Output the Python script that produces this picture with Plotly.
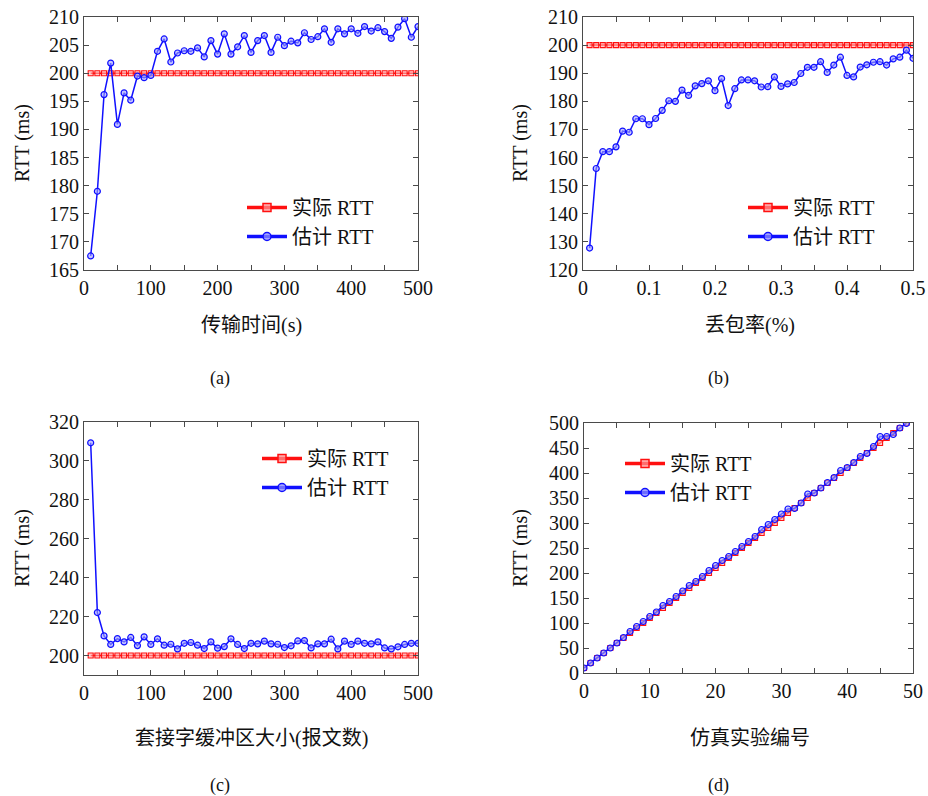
import plotly.graph_objects as go

# ---------------- data ----------------
# (a) transmission time (s)
a_x = [10, 20, 30, 40, 50, 60, 70, 80, 90, 100, 110, 120, 130, 140, 150, 160, 170, 180, 190, 200,
       210, 220, 230, 240, 250, 260, 270, 280, 290, 300, 310, 320, 330, 340, 350, 360, 370, 380, 390, 400,
       410, 420, 430, 440, 450, 460, 470, 480, 490, 500]
a_actual = [200] * 50
a_est = [167.5, 179.0, 196.2, 201.8, 190.9, 196.5, 195.2, 199.5, 199.2, 199.6,
         203.9, 206.1, 202.0, 203.6, 204.0, 203.9, 204.5, 202.9, 205.8, 203.4,
         207.0, 203.4, 204.7, 206.7, 203.7, 205.8, 206.7, 203.7, 206.4, 204.9,
         205.7, 205.4, 207.2, 206.0, 206.5, 207.9, 205.5, 207.9, 207.0, 207.9,
         207.1, 208.3, 207.5, 208.1, 207.4, 206.2, 208.2, 209.7, 206.4, 208.3]

# (b) packet loss rate
b_x = [0.01, 0.02, 0.03, 0.04, 0.05, 0.06, 0.07, 0.08, 0.09, 0.10,
       0.11, 0.12, 0.13, 0.14, 0.15, 0.16, 0.17, 0.18, 0.19, 0.20,
       0.21, 0.22, 0.23, 0.24, 0.25, 0.26, 0.27, 0.28, 0.29, 0.30,
       0.31, 0.32, 0.33, 0.34, 0.35, 0.36, 0.37, 0.38, 0.39, 0.40,
       0.41, 0.42, 0.43, 0.44, 0.45, 0.46, 0.47, 0.48, 0.49, 0.50]
b_actual = [200] * 50
b_est = [127.8, 156.1, 162.1, 162.1, 163.8, 169.4, 169.0, 173.8, 173.8, 171.7,
         173.9, 176.8, 180.2, 180.0, 184.0, 182.1, 185.5, 186.3, 187.3, 183.8,
         188.1, 178.5, 184.5, 187.6, 187.6, 187.3, 185.1, 185.2, 188.7, 185.3,
         186.2, 186.7, 189.9, 192.1, 192.1, 194.1, 190.3, 192.9, 195.7, 189.2,
         188.7, 192.2, 193.0, 193.9, 194.1, 192.9, 195.1, 195.7, 198.2, 195.3]

# (c) socket buffer size (packets)
c_x = a_x
c_actual = [200] * 50
c_est = [309.3, 222.1, 210.1, 205.7, 208.7, 207.0, 209.3, 205.1, 209.6, 205.7,
         208.6, 205.3, 205.8, 203.4, 206.3, 206.7, 205.3, 203.6, 207.0, 203.8,
         204.6, 208.6, 205.7, 203.6, 206.3, 206.0, 207.4, 206.0, 205.8, 204.1,
         205.0, 207.5, 207.7, 203.9, 206.0, 206.0, 208.4, 203.4, 207.4, 205.7,
         207.4, 206.3, 206.0, 207.0, 203.9, 203.4, 204.5, 205.7, 206.3, 206.3]

# (d) simulation experiment number
d_x = list(range(0, 50))
d_actual = [10, 20, 30, 40, 50, 60, 70, 80, 90, 100, 110, 120, 130, 140, 150, 160, 170, 180, 190, 200,
            210, 220, 230, 240, 250, 260, 270, 280, 290, 300, 310, 320, 330, 340, 350, 360, 370, 380, 390, 400,
            410, 420, 430, 440, 450, 460, 470, 480, 490, 500]
d_est = [10, 20, 30, 40, 50, 60, 71, 83, 93, 103, 113, 122, 135, 143, 153, 164, 175, 183, 193, 205,
         215, 225, 233, 243, 253, 263, 273, 287, 297, 307, 318, 328, 329, 340, 358, 360, 370, 381, 391, 405,
         411, 421, 433, 439, 453, 473, 473, 477, 490, 499]

# tick values / labels
a_xticks = [0, 50, 100, 150, 200, 250, 300, 350, 400, 450, 500]
a_xtext = ["0", "", "100", "", "200", "", "300", "", "400", "", "500"]
a_yticks = [165, 170, 175, 180, 185, 190, 195, 200, 205, 210]
b_xticks = [0, 0.05, 0.1, 0.15, 0.2, 0.25, 0.3, 0.35, 0.4, 0.45, 0.5]
b_xtext = ["0", "", "0.1", "", "0.2", "", "0.3", "", "0.4", "", "0.5"]
b_yticks = [120, 130, 140, 150, 160, 170, 180, 190, 200, 210]
c_yticks = [200, 220, 240, 260, 280, 300, 320]
d_xticks = [0, 5, 10, 15, 20, 25, 30, 35, 40, 45, 50]
d_xtext = ["0", "", "10", "", "20", "", "30", "", "40", "", "50"]
d_yticks = [0, 50, 100, 150, 200, 250, 300, 350, 400, 450, 500]

x_titles = ["传输时间(s)", "丢包率(%)", "套接字缓冲区大小(报文数)", "仿真实验编号"]
panel_labels = ["(a)", "(b)", "(c)", "(d)"]
y_title = "RTT (ms)"
name_actual = "实际 RTT"
name_est = "估计 RTT"

# ---------------- figure ----------------
W, H = 928, 796
FONT = "'Liberation Serif', 'Times New Roman', 'Noto Sans CJK SC', serif"
RED = "#FF1010"
BLUE = "#1010FF"

def px(x):
    return x / W

def py(y):
    return 1 - y / H

fig = go.Figure()

panels = [
    (a_x, a_actual, a_est, "x", "y", "legend"),
    (b_x, b_actual, b_est, "x2", "y2", "legend2"),
    (c_x, c_actual, c_est, "x3", "y3", "legend3"),
    (d_x, d_actual, d_est, "x4", "y4", "legend4"),
]

for xs, act, est, xa, ya, lg in panels:
    fig.add_trace(go.Scatter(
        x=xs, y=act, mode="lines+markers", xaxis=xa, yaxis=ya, showlegend=False,
        line=dict(color=RED, width=1.5),
        marker=dict(symbol="square", size=5, color="rgba(255,170,170,0.6)",
                    line=dict(color=RED, width=1.1)),
        hoverinfo="skip"))
    fig.add_trace(go.Scatter(
        x=xs, y=est, mode="lines+markers", xaxis=xa, yaxis=ya, showlegend=False,
        line=dict(color=BLUE, width=1.5),
        marker=dict(symbol="circle", size=6, color="rgba(160,160,255,0.6)",
                    line=dict(color=BLUE, width=1.2)),
        hoverinfo="skip"))
    # legend-only entries with thicker lines
    fig.add_trace(go.Scatter(
        x=[None], y=[None], mode="lines+markers", xaxis=xa, yaxis=ya, legend=lg,
        name=name_actual,
        line=dict(color=RED, width=3.5),
        marker=dict(symbol="square", size=8, color="rgba(255,150,150,0.7)",
                    line=dict(color=RED, width=1.5))))
    fig.add_trace(go.Scatter(
        x=[None], y=[None], mode="lines+markers", xaxis=xa, yaxis=ya, legend=lg,
        name=name_est,
        line=dict(color=BLUE, width=3.5),
        marker=dict(symbol="circle", size=8, color="rgba(150,150,255,0.7)",
                    line=dict(color=BLUE, width=1.5))))

axis_common = dict(
    showline=True, linecolor="#4a4a4a", linewidth=1, mirror="allticks",
    ticks="inside", ticklen=5, tickwidth=1, tickcolor="#4a4a4a",
    showgrid=False, zeroline=False, automargin=False,
    ticklabeloverflow="allow",
    tickfont=dict(family=FONT, size=20, color="#111111"),
)

# plot-area rectangles in pixels: (left, right, top, bottom)
rects = [
    (84, 418, 17, 270),
    (583, 913, 17, 270),
    (84, 418, 422, 675),
    (584, 913, 423, 673),
]

xcfg = [
    dict(range=[0, 500], tickmode="array", tickvals=a_xticks, ticktext=a_xtext),
    dict(range=[0, 0.5], tickmode="array", tickvals=b_xticks, ticktext=b_xtext),
    dict(range=[0, 500], tickmode="array", tickvals=a_xticks, ticktext=a_xtext),
    dict(range=[0, 50], tickmode="array", tickvals=d_xticks, ticktext=d_xtext),
]
ycfg = [
    dict(range=[165, 210], tickmode="array", tickvals=a_yticks),
    dict(range=[120, 210], tickmode="array", tickvals=b_yticks),
    dict(range=[190, 320], tickmode="array", tickvals=c_yticks),
    dict(range=[0, 500], tickmode="array", tickvals=d_yticks),
]

layout = dict(
    template="none",
    width=W, height=H, margin=dict(l=0, r=0, t=0, b=0, pad=0),
    paper_bgcolor="white", plot_bgcolor="white",
    font=dict(family=FONT, size=20, color="#111111"),
)

for i, (l, r, t, b) in enumerate(rects):
    sx = "" if i == 0 else str(i + 1)
    xd = dict(axis_common, domain=[px(l), px(r)], anchor="y" + sx, **xcfg[i])
    yd = dict(axis_common, domain=[py(b), py(t)], anchor="x" + sx, **ycfg[i])
    layout["xaxis" + sx] = xd
    layout["yaxis" + sx] = yd

legend_pos = [(242, 188), (743, 188), (257, 439), (620, 444)]
for i, (lx, ly) in enumerate(legend_pos):
    key = "legend" if i == 0 else "legend" + str(i + 1)
    layout[key] = dict(
        x=px(lx), y=py(ly), xanchor="left", yanchor="top",
        bgcolor="rgba(0,0,0,0)", borderwidth=0,
        font=dict(family=FONT, size=20, color="#111111"),
        tracegroupgap=0, itemwidth=40,
    )

fig.update_layout(**layout)

annotations = []
xt_pos = [(251, 325), (750, 325), (251, 738), (750, 738)]
lab_pos = [(220, 378), (718, 378), (220, 785), (718, 785)]
yt_pos = [(22, 143), (520, 143), (22, 548), (520, 548)]
for i in range(4):
    annotations.append(dict(text=x_titles[i], x=px(xt_pos[i][0]), y=py(xt_pos[i][1]),
                            xref="paper", yref="paper", showarrow=False,
                            xanchor="center", yanchor="middle",
                            font=dict(family=FONT, size=20, color="#111111")))
    annotations.append(dict(text=panel_labels[i], x=px(lab_pos[i][0]), y=py(lab_pos[i][1]),
                            xref="paper", yref="paper", showarrow=False,
                            xanchor="center", yanchor="middle",
                            font=dict(family=FONT, size=18, color="#111111")))
    annotations.append(dict(text=y_title, x=px(yt_pos[i][0]), y=py(yt_pos[i][1]),
                            xref="paper", yref="paper", showarrow=False, textangle=-90,
                            xanchor="center", yanchor="middle",
                            font=dict(family=FONT, size=20, color="#111111")))
fig.update_layout(annotations=annotations)

fig.write_html("out.html")
